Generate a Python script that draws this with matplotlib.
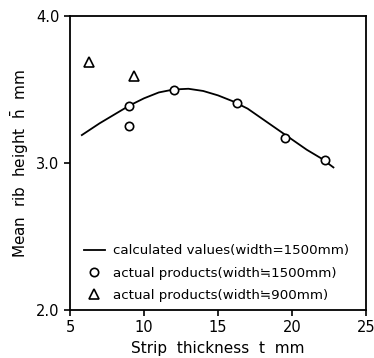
import matplotlib
matplotlib.use("Agg")
import matplotlib.pyplot as plt

# calculated curve (width=1500mm)
calc_t = [5.8, 7, 8, 9, 10, 11, 12, 13, 14, 15, 16, 17, 18, 19, 20, 21, 22, 22.8]
calc_h = [3.19, 3.27, 3.33, 3.39, 3.44, 3.48, 3.50, 3.505, 3.49, 3.46, 3.42, 3.37, 3.30, 3.23, 3.16, 3.09, 3.03, 2.97]

# actual products width ~1500mm
act1500_t = [9.0, 9.0, 12.0, 16.3, 19.5, 22.2]
act1500_h = [3.39, 3.25, 3.50, 3.41, 3.17, 3.02]

# actual products width ~900mm
act900_t = [6.3, 9.3]
act900_h = [3.69, 3.59]

xticks = [5, 10, 15, 20, 25]
yticks = [2.0, 3.0, 4.0]

labels = ["calculated values(width=1500mm)",
          "actual products(width\u22521500mm)",
          "actual products(width\u2252900mm)"]

plt.rcParams['font.family'] = ['DejaVu Sans']
fig = plt.figure(figsize=(3.74, 3.58), dpi=100)
ax = fig.add_axes([70/374, 1 - 310/358, (366-70)/374, (310-16)/358])

ax.plot(calc_t, calc_h, color='black', lw=1.3, label=labels[0])
ax.plot(act1500_t, act1500_h, linestyle='none', marker='o', ms=6, mfc='white', mec='black', mew=1.2, label=labels[1])
ax.plot(act900_t, act900_h, linestyle='none', marker='^', ms=6.5, mfc='white', mec='black', mew=1.2, label=labels[2])

ax.set_xlim(5, 25)
ax.set_ylim(2.0, 4.0)
ax.set_xticks(xticks)
ax.set_xticklabels([str(v) for v in xticks])
ax.set_yticks(yticks)
ax.set_yticklabels(["%.1f" % v for v in yticks])
ax.tick_params(direction='out', length=4, width=1.2, labelsize=10.5)
for s in ax.spines.values():
    s.set_linewidth(1.3)

ax.set_xlabel("Strip  thickness  t  mm", fontsize=11)
ax.set_ylabel(r"Mean  rib  height  $\bar{\mathrm{h}}$  mm", fontsize=11)

leg = ax.legend(loc='lower left', bbox_to_anchor=(0.015, -0.005), frameon=False, fontsize=9.6,
                handlelength=1.6, handletextpad=0.6, labelspacing=0.7, borderaxespad=0.3)

fig.savefig("out.png", dpi=100)
